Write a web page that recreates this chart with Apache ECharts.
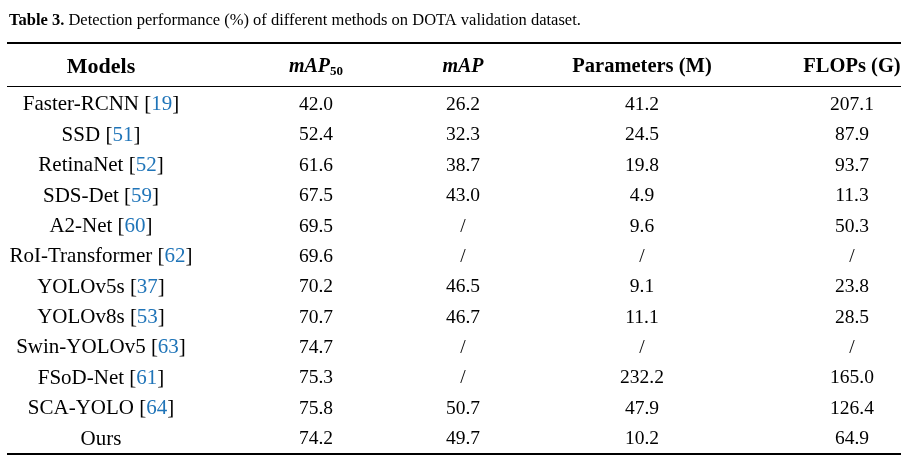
<!DOCTYPE html>
<html>
<head>
<meta charset="utf-8">
<script src="https://cdn.jsdelivr.net/npm/echarts@6/dist/echarts.min.js"></script>
<style>html,body{margin:0;padding:0;background:#fff}#c{width:906px;height:460px}</style>
</head>
<body>
<div id="c"></div>
<script>
// ---- data ----
const headers = ['Models', 'mAP50', 'mAP', 'Parameters (M)', 'FLOPs (G)'];
const models = ['Faster-RCNN', 'SSD', 'RetinaNet', 'SDS-Det', 'A2-Net', 'RoI-Transformer', 'YOLOv5s', 'YOLOv8s', 'Swin-YOLOv5', 'FSoD-Net', 'SCA-YOLO', 'Ours'];
const refs = ['19', '51', '52', '59', '60', '62', '37', '53', '63', '61', '64', null];
const map50 = [42.0, 52.4, 61.6, 67.5, 69.5, 69.6, 70.2, 70.7, 74.7, 75.3, 75.8, 74.2];
const mapAll = [26.2, 32.3, 38.7, 43.0, null, null, 46.5, 46.7, null, null, 50.7, 49.7];
const params = [41.2, 24.5, 19.8, 4.9, 9.6, null, 9.1, 11.1, null, 232.2, 47.9, 10.2];
const flops = [207.1, 87.9, 93.7, 11.3, 50.3, null, 23.8, 28.5, null, 165.0, 126.4, 64.9];

// ---- layout ----
const FONT = '"Liberation Serif", serif';
const colX = [101, 316, 463, 642, 852];
const HEADER_ROW = -1.25;
const fmt = v => (v === null ? '/' : v.toFixed(1));

const cells = [];
models.forEach((m, i) => {
  cells.push({ value: [colX[0], i], label: { formatter: refs[i] ? '{n|' + m + ' [}{c|' + refs[i] + '}{n|]}' : '{n|' + m + '}' } });
  [map50, mapAll, params, flops].forEach((arr, k) => {
    cells.push({ value: [colX[k + 1], i], label: { formatter: fmt(arr[i]) } });
  });
});
const headFmt = [
  '{bm|Models}',
  '{bi|mAP}{sub|50}',
  '{bi|mAP}',
  '{b|Parameters (M)}',
  '{b|FLOPs (G)}'
];
headers.forEach((h, k) => {
  cells.push({ value: [colX[k], HEADER_ROW], label: { formatter: headFmt[k] } });
});

const chart = echarts.init(document.getElementById('c'), null, { renderer: 'canvas' });
chart.setOption({
  backgroundColor: '#fff',
  animation: false,
  title: {
    left: 4, top: 7,
    text: '{b|Table 3.} Detection performance (%) of different methods on DOTA validation dataset.',
    textStyle: {
      fontFamily: FONT, fontSize: 16.5, fontWeight: 'normal', color: '#000',
      rich: { b: { fontFamily: FONT, fontSize: 16.5, fontWeight: 'bold', color: '#000' } }
    }
  },
  grid: { left: 0, right: 0, top: 67, height: 372 },
  xAxis: { type: 'value', min: 0, max: 906, show: false },
  yAxis: { type: 'value', min: HEADER_ROW, max: 11, inverse: true, show: false },
  series: [{
    type: 'scatter',
    symbolSize: 0,
    clip: false,
    itemStyle: { opacity: 1, color: 'transparent' },
    emphasis: { disabled: true },
    silent: true,
    data: cells,
    label: {
      show: true,
      position: 'inside',
      fontFamily: FONT,
      fontSize: 19.5,
      color: '#000',
      opacity: 1,
      textBorderWidth: 0,
      rich: {
        n: { fontFamily: FONT, fontSize: 21, color: '#000' },
        c: { fontFamily: FONT, fontSize: 21, color: '#1f74b8' },
        bm: { fontFamily: FONT, fontSize: 22, fontWeight: 'bold', color: '#000' },
        b: { fontFamily: FONT, fontSize: 20.5, fontWeight: 'bold', color: '#000' },
        bi: { fontFamily: FONT, fontSize: 20, fontWeight: 'bold', fontStyle: 'italic', color: '#000' },
        sub: { fontFamily: FONT, fontSize: 13, fontWeight: 'bold', color: '#000', padding: [10, 0, 0, 0] }
      }
    }
  }],
  graphic: [
    { type: 'line', silent: true, shape: { x1: 7, y1: 43, x2: 901, y2: 43 }, style: { stroke: '#000', lineWidth: 2 } },
    { type: 'line', silent: true, shape: { x1: 7, y1: 86.5, x2: 901, y2: 86.5 }, style: { stroke: '#000', lineWidth: 1 } },
    { type: 'line', silent: true, shape: { x1: 7, y1: 454, x2: 901, y2: 454 }, style: { stroke: '#000', lineWidth: 2 } }
  ]
});
</script>
</body>
</html>
